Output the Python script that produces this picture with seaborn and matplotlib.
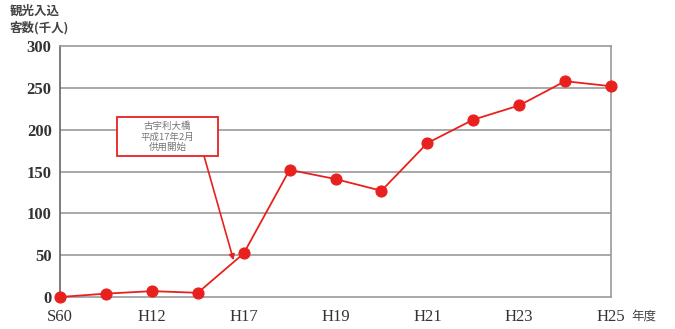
import matplotlib
matplotlib.use("Agg")
import matplotlib.pyplot as plt
from matplotlib.patches import Rectangle
import seaborn as sns
import pandas as pd

# 年度別 観光入込客数（千人）
years = ["S60", "", "H12", "", "H17", "", "H19", "", "H21", "", "H23", "", "H25"]
visitors = [0, 4, 7, 5, 52, 152, 141, 127, 184, 212, 229, 258, 252]
yticks = [0, 50, 100, 150, 200, 250, 300]

df = pd.DataFrame({"idx": range(len(years)), "visitors": visitors})

sns.set_theme(style="white")
plt.rcParams["font.family"] = ["Liberation Serif", "Noto Sans CJK JP", "DejaVu Sans"]

fig = plt.figure(figsize=(6.75, 3.29), dpi=100)
ax = fig.add_axes([0.0889, 0.0973, 0.8163, 0.7627])

red = "#e8211f"
sns.lineplot(data=df, x="idx", y="visitors", ax=ax, color=red, linewidth=1.3,
             marker="o", markersize=8, markeredgecolor=red, markerfacecolor=red,
             clip_on=False, zorder=5)

ax.set_xlim(0, len(years) - 1)
ax.set_ylim(0, 300)
ax.set_yticks(yticks)
ax.set_yticklabels([str(v) for v in yticks], fontsize=12, color="#333333",
                   fontweight="bold")
ax.set_xticks(range(len(years)))
ax.set_xticklabels(years, fontsize=12, color="#333333")
ax.tick_params(axis="x", direction="in", length=4, color="#aaaaaa", pad=9)
ax.tick_params(axis="y", length=0, pad=6)
ax.set_xlabel("")
ax.set_ylabel("")

for v in yticks[1:-1]:
    ax.axhline(v, color="#999999", linewidth=1.2, zorder=1)

for name, sp in ax.spines.items():
    sp.set_visible(True)
    sp.set_color("#999999")
    sp.set_linewidth(1.2)
ax.spines["left"].set_color("#666666")

# 古宇利大橋 開通の注記
ax.add_patch(Rectangle((1.24, 168), 2.2, 47, facecolor="white", edgecolor=red,
                       linewidth=1.3, zorder=6))
ax.text(2.34, 191.5, "古宇利大橋\n平成17年2月\n供用開始", fontsize=6.8,
        color="#777777", ha="center", va="center",
        family=["Noto Sans CJK JP", "DejaVu Sans"], linespacing=1.15, zorder=7)
ax.annotate("", xy=(3.78, 44), xytext=(3.14, 168),
            arrowprops=dict(arrowstyle="-|>", color=red, linewidth=1.2,
                            shrinkA=0, shrinkB=0, mutation_scale=8),
            zorder=6)

fig.text(0.015, 0.985, "観光入込\n客数(千人)", fontsize=9, color="#444444",
         ha="left", va="top", family=["Noto Sans CJK JP", "DejaVu Sans"],
         fontweight="bold", linespacing=1.3)
fig.text(0.935, 0.04, "年度", fontsize=9, color="#444444", ha="left",
         va="center", family=["Noto Sans CJK JP", "DejaVu Sans"])

fig.savefig("out.png", dpi=100)
